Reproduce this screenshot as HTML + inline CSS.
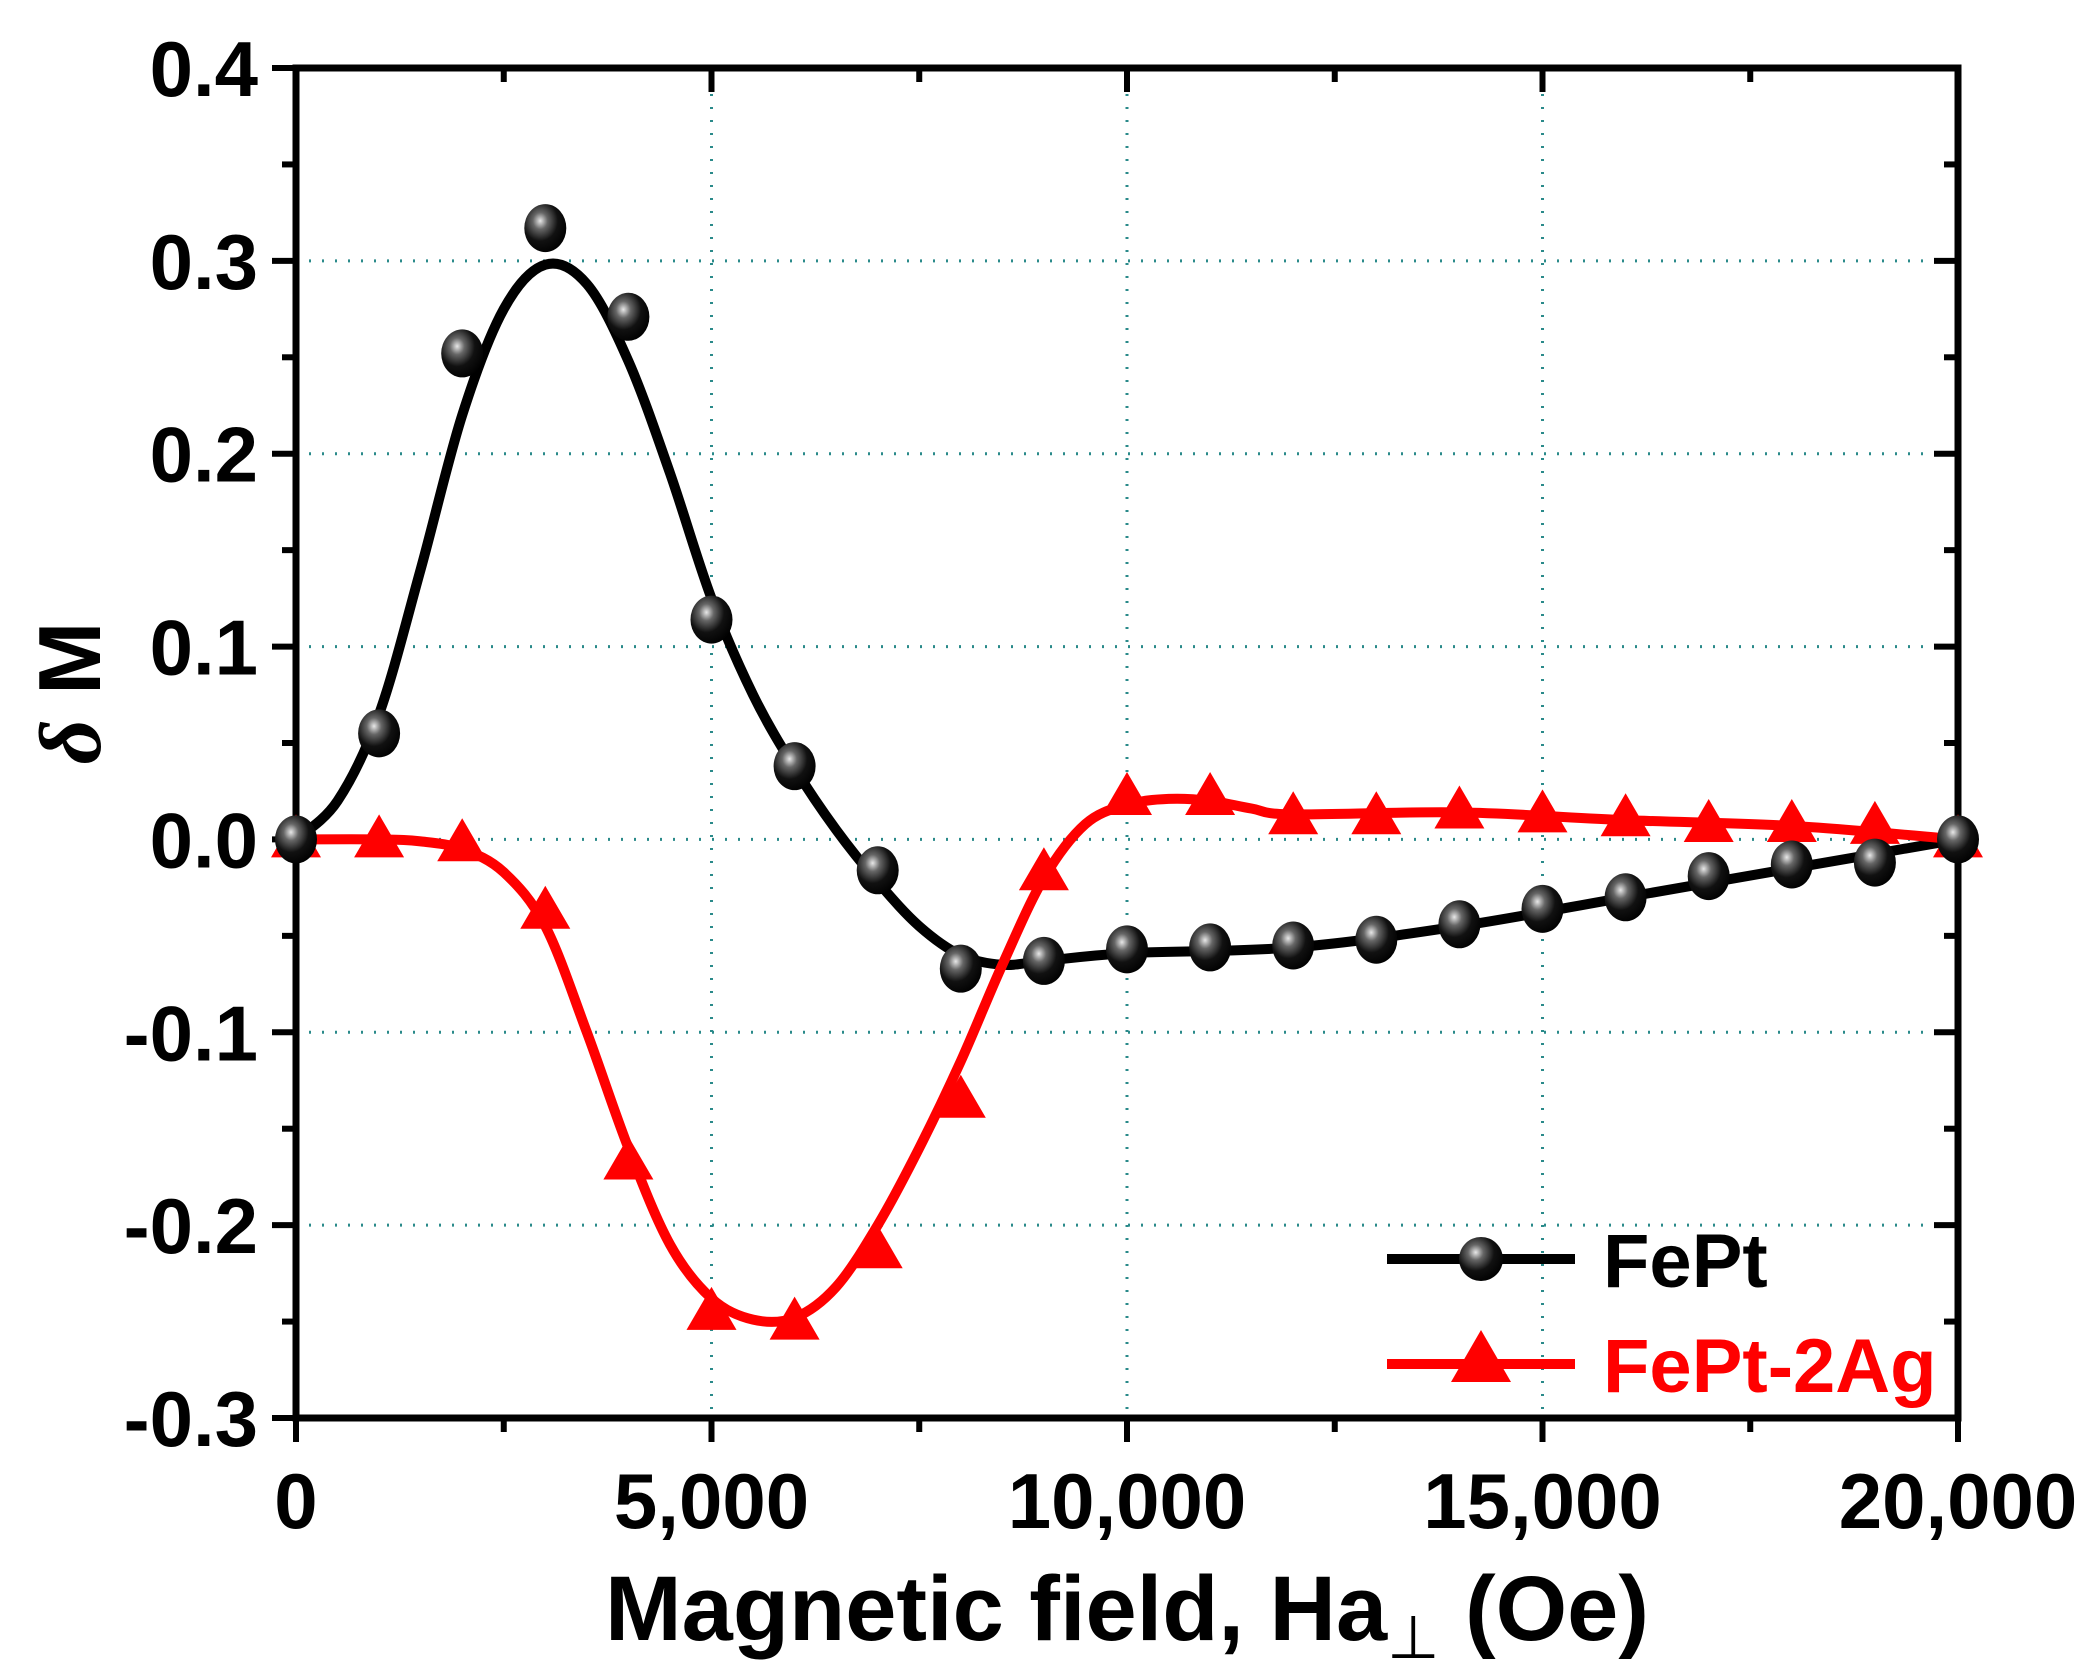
<!DOCTYPE html>
<html><head><meta charset="utf-8"><style>
html,body{margin:0;padding:0;background:#fff;}
svg{display:block;font-family:"Liberation Sans",Arial,sans-serif;font-weight:bold;}
</style></head><body>
<svg id="s" width="2091" height="1680" viewBox="0 0 2091 1680" xmlns="http://www.w3.org/2000/svg">
<defs>
<radialGradient id="ball" cx="0.38" cy="0.35" r="0.7">
<stop offset="0" stop-color="#e8e8e8"/><stop offset="0.25" stop-color="#666"/><stop offset="0.6" stop-color="#111"/><stop offset="1" stop-color="#000"/>
</radialGradient>
</defs>
<g id="grid" stroke="#2a8a8a" stroke-width="3" stroke-dasharray="2,11"></g>
<g id="ticks" stroke="#000" stroke-width="6"></g>
<rect x="296" y="68" width="1662" height="1350" fill="none" stroke="#000" stroke-width="7"/>
<g id="labels" font-size="78" fill="#000"></g>
<path id="c1" fill="none" stroke="#000" stroke-width="10" stroke-linejoin="round"/>
<path id="c2" fill="none" stroke="#f00" stroke-width="10" stroke-linejoin="round"/>
<g id="m2"></g><g id="m1"></g>
<text x="1127" y="1640" font-size="92" text-anchor="middle">Magnetic field, Ha<tspan font-size="60" dy="18" font-weight="normal">⊥</tspan><tspan dy="-18"> (Oe)</tspan></text>
<text transform="translate(100,693) rotate(-90)" font-size="88" text-anchor="middle"><tspan font-style="italic" font-family="Liberation Serif">δ</tspan> M</text>
<line x1="1387" y1="1259" x2="1575" y2="1259" stroke="#000" stroke-width="10"/>
<circle cx="1481" cy="1259" r="22" fill="url(#ball)"/>
<text x="1603" y="1287" font-size="76">FePt</text>
<line x1="1387" y1="1364" x2="1575" y2="1364" stroke="#f00" stroke-width="10"/>
<polygon points="1451,1382 1511,1382 1481,1330" fill="#f00"/>
<text x="1603" y="1392" font-size="76" fill="#f00">FePt-2Ag</text>
</svg>
<script>
var L=296,R=1958,T=68,B=1418;
function X(v){return L+(R-L)*v/20000;}
function Y(v){return T+(B-T)*(0.4-v)/0.7;}
var ns="http://www.w3.org/2000/svg";
function el(p,t,a,txt){var e=document.createElementNS(ns,t);for(var k in a)e.setAttribute(k,a[k]);if(txt!==undefined)e.textContent=txt;document.getElementById(p).appendChild(e);}
for(var i=1;i<4;i++){el('grid','line',{x1:X(i*5000),x2:X(i*5000),y1:T,y2:B});}
for(var v=-2;v<=3;v++){el('grid','line',{x1:L,x2:R,y1:Y(v/10),y2:Y(v/10)});}
for(var i=0;i<=8;i++){var x=X(i*2500),len=i%2==0?24:14;
el('ticks','line',{x1:x,x2:x,y1:B,y2:B+len});el('ticks','line',{x1:x,x2:x,y1:T,y2:T+len});}
for(var i=0;i<=14;i++){var y=Y(0.4-i*0.05),len=i%2==0?24:14;
el('ticks','line',{x1:L-len,x2:L,y1:y,y2:y});el('ticks','line',{x1:R-len,x2:R,y1:y,y2:y});}
var xl=["0","5,000","10,000","15,000","20,000"];
for(var i=0;i<5;i++)el('labels','text',{x:X(i*5000),y:1528,'text-anchor':'middle'},xl[i]);
for(var v=4;v>=-3;v--)el('labels','text',{x:258,y:Y(v/10)+28,'text-anchor':'end'},(v/10).toFixed(1));
function path(pts){var d="M"+X(pts[0][0]*1000)+","+Y(pts[0][1]);
for(var i=0;i<pts.length-1;i++){var p0=pts[Math.max(0,i-1)],p1=pts[i],p2=pts[i+1],p3=pts[Math.min(pts.length-1,i+2)];
var a=[X(p0[0]*1000),Y(p0[1])],b=[X(p1[0]*1000),Y(p1[1])],c=[X(p2[0]*1000),Y(p2[1])],e=[X(p3[0]*1000),Y(p3[1])];
d+=" C"+(b[0]+(c[0]-a[0])/6)+","+(b[1]+(c[1]-a[1])/6)+" "+(c[0]-(e[0]-b[0])/6)+","+(c[1]-(e[1]-b[1])/6)+" "+c[0]+","+c[1];}
return d;}
document.getElementById('c1').setAttribute('d',path([[0,0],[0.5,0.02],[1,0.065],[1.5,0.14],[2,0.22],[2.5,0.275],[3,0.298],[3.5,0.288],[4,0.248],[4.5,0.19],[5,0.125],[5.5,0.075],[6,0.037],[6.5,0.005],[7,-0.022],[7.5,-0.045],[8,-0.06],[8.5,-0.065],[9,-0.063],[10,-0.059],[12,-0.056],[14,-0.045],[16,-0.03],[18,-0.015],[20,0]]));
document.getElementById('c2').setAttribute('d',path([[0,0],[1,0],[1.5,-0.001],[2,-0.005],[2.5,-0.017],[3,-0.045],[3.5,-0.1],[4,-0.16],[4.5,-0.21],[5,-0.238],[5.5,-0.249],[6,-0.248],[6.5,-0.232],[7,-0.2],[7.5,-0.16],[8,-0.115],[8.5,-0.065],[9,-0.02],[9.5,0.008],[10,0.018],[10.5,0.021],[11,0.02],[11.5,0.016],[12,0.013],[14,0.014],[16,0.01],[18,0.007],[20,0]]));
var d1=[0,0.055,0.252,0.317,0.271,0.114,0.038,-0.016,-0.067,-0.063,-0.057,-0.056,-0.055,-0.052,-0.044,-0.036,-0.030,-0.019,-0.013,-0.012,0];
var d2=[0,0,-0.002,-0.037,-0.167,-0.245,-0.25,-0.213,-0.135,-0.017,0.022,0.022,0.012,0.012,0.015,0.013,0.011,0.008,0.008,0.007,0];
for(var i=0;i<=20;i++){var x=X(i*1000);
var y2=Y(d2[i]);el('m2','polygon',{points:(x-25)+","+(y2+18)+" "+(x+25)+","+(y2+18)+" "+x+","+(y2-25),fill:'#f00'});
el('m1','ellipse',{cx:x,cy:Y(d1[i]),rx:21,ry:24,fill:'url(#ball)'});}
</script>
</body></html>
